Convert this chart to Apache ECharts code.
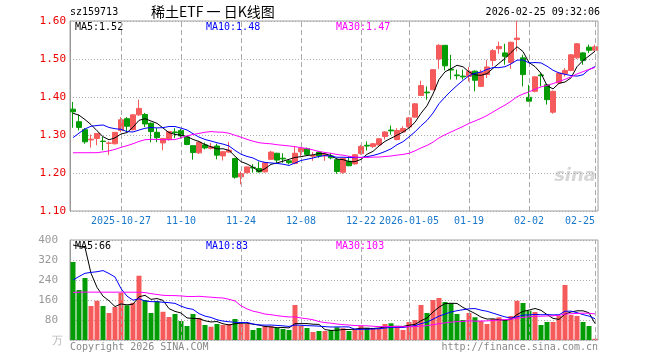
<!DOCTYPE html>
<html><head><meta charset="utf-8">
<script src="https://cdn.jsdelivr.net/npm/echarts@6/dist/echarts.min.js"></script>
<style>html,body{margin:0;padding:0;background:#fff}#c{width:660px;height:360px}</style>
</head><body><div id="c"></div>
<script>
// ---------- data ----------
const dates = [
'2025-10-15','2025-10-16','2025-10-17','2025-10-20','2025-10-21','2025-10-22','2025-10-23','2025-10-24','2025-10-27','2025-10-28',
'2025-10-29','2025-10-30','2025-10-31','2025-11-03','2025-11-04','2025-11-05','2025-11-06','2025-11-07','2025-11-10','2025-11-11',
'2025-11-12','2025-11-13','2025-11-14','2025-11-17','2025-11-18','2025-11-19','2025-11-20','2025-11-21','2025-11-24','2025-11-25',
'2025-11-26','2025-11-27','2025-11-28','2025-12-01','2025-12-02','2025-12-03','2025-12-04','2025-12-05','2025-12-08','2025-12-09',
'2025-12-10','2025-12-11','2025-12-12','2025-12-15','2025-12-16','2025-12-17','2025-12-18','2025-12-19','2025-12-22','2025-12-23',
'2025-12-24','2025-12-25','2025-12-26','2025-12-29','2025-12-30','2025-12-31','2026-01-05','2026-01-06','2026-01-07','2026-01-08',
'2026-01-09','2026-01-12','2026-01-13','2026-01-14','2026-01-15','2026-01-16','2026-01-19','2026-01-20','2026-01-21','2026-01-22',
'2026-01-23','2026-01-26','2026-01-27','2026-01-28','2026-01-29','2026-01-30','2026-02-02','2026-02-03','2026-02-04','2026-02-05',
'2026-02-06','2026-02-09','2026-02-10','2026-02-11','2026-02-12','2026-02-13','2026-02-24','2026-02-25'];
const opens = [
1.368,1.335,1.314,1.287,1.291,1.284,1.278,1.277,1.312,1.343,
1.314,1.353,1.354,1.331,1.307,1.279,1.288,1.308,1.312,1.295,
1.272,1.253,1.274,1.265,1.271,1.245,1.255,1.238,1.190,1.201,
1.215,1.212,1.203,1.236,1.252,1.239,1.232,1.225,1.256,1.264,
1.244,1.255,1.245,1.245,1.235,1.202,1.231,1.224,1.251,1.273,
1.270,1.274,1.296,1.313,1.288,1.308,1.321,1.347,1.404,1.413,
1.419,1.500,1.536,1.473,1.458,1.455,1.454,1.468,1.428,1.459,
1.496,1.527,1.516,1.491,1.551,1.503,1.399,1.415,1.458,1.432,
1.360,1.437,1.461,1.470,1.503,1.516,1.531,1.523];
const closes = [
1.361,1.320,1.282,1.289,1.304,1.283,1.279,1.307,1.340,1.323,
1.353,1.370,1.329,1.309,1.293,1.291,1.309,1.306,1.298,1.275,
1.254,1.281,1.266,1.269,1.247,1.256,1.260,1.189,1.198,1.216,
1.213,1.203,1.227,1.255,1.234,1.237,1.227,1.252,1.265,1.249,
1.246,1.245,1.249,1.240,1.204,1.238,1.219,1.248,1.270,1.271,
1.277,1.290,1.308,1.311,1.312,1.317,1.345,1.382,1.430,1.411,
1.472,1.536,1.482,1.471,1.456,1.453,1.467,1.444,1.465,1.479,
1.522,1.533,1.507,1.544,1.555,1.459,1.389,1.453,1.456,1.393,
1.415,1.463,1.470,1.511,1.540,1.496,1.523,1.532];
const highs = [
1.387,1.353,1.318,1.301,1.305,1.295,1.283,1.307,1.347,1.347,
1.355,1.393,1.358,1.333,1.318,1.291,1.311,1.318,1.316,1.297,
1.272,1.285,1.280,1.279,1.277,1.258,1.282,1.240,1.204,1.217,
1.223,1.230,1.229,1.258,1.253,1.252,1.236,1.271,1.269,1.267,
1.255,1.258,1.255,1.253,1.239,1.240,1.244,1.250,1.274,1.283,
1.279,1.292,1.310,1.325,1.318,1.323,1.347,1.384,1.443,1.428,
1.472,1.539,1.536,1.511,1.472,1.472,1.479,1.470,1.472,1.498,
1.526,1.546,1.540,1.546,1.600,1.511,1.432,1.454,1.463,1.435,
1.417,1.465,1.476,1.513,1.542,1.518,1.538,1.538];
const lows = [
1.319,1.312,1.277,1.267,1.273,1.260,1.247,1.275,1.307,1.308,
1.312,1.350,1.321,1.281,1.281,1.260,1.285,1.292,1.291,1.273,
1.235,1.250,1.262,1.262,1.236,1.233,1.253,1.185,1.170,1.199,
1.201,1.201,1.201,1.234,1.227,1.227,1.223,1.223,1.245,1.246,
1.232,1.240,1.232,1.236,1.198,1.198,1.218,1.222,1.248,1.259,
1.266,1.273,1.288,1.301,1.286,1.308,1.318,1.346,1.403,1.393,
1.418,1.474,1.470,1.446,1.446,1.446,1.441,1.415,1.426,1.450,
1.481,1.514,1.485,1.474,1.520,1.428,1.389,1.412,1.428,1.380,
1.356,1.435,1.454,1.468,1.500,1.485,1.516,1.520];
const volumes = [
312,200,248,136,157,136,108,132,188,139,
149,257,160,108,155,113,92,104,76,56,
104,88,60,53,64,60,64,84,64,64,
40,48,55,55,48,44,40,140,56,48,
32,36,36,40,51,47,36,44,57,49,
44,47,64,67,53,40,72,80,140,108,
160,168,152,147,104,80,108,91,76,64,
84,91,80,96,157,148,117,112,60,72,
72,96,220,100,96,72,56,5];
// closes / volumes of the 29 sessions before the window (for moving averages)
const preCloses = [1.32,1.28,1.29,1.30,1.22,1.20,1.19,1.18,1.19,1.20,1.19,1.19,1.28,1.30,1.31,1.31,1.30,1.15,1.13,1.14,1.200,1.172,1.219,1.284,1.269,1.345,1.340,1.355,1.385];
const preVolumes = [170,230,140,160,140,110,130,190,140,150,260,200,240,250,217,120,110,115,120,110,60,120,100,130,90,225,273,651,439];
const tickDates = ['2025-10-27','2025-11-10','2025-11-24','2025-12-08','2025-12-22','2026-01-05','2026-01-19','2026-02-02','2026-02-25'];
const tickLabels = ['2025-10-27','11-10','11-24','12-08','12-22','2026-01-05','01-19','02-02','02-25'];
const priceMALabels = ['MA5:1.52','MA10:1.48','MA30:1.47'];
const volMALabels = ['MA5:66','MA10:83','MA30:103'];

// ---------- helpers ----------
function movingAvg(pre, arr, n) {
  const all = pre.concat(arr);
  return arr.map((_, i) => {
    const j = i + pre.length;
    let s = 0;
    for (let k = 0; k < n; k++) s += all[j - k];
    return +(s / n).toFixed(4);
  });
}
const UP = '#f65b5b', DOWN = '#049c04';
const MONO = "'DejaVu Sans Mono', monospace";
const kData = dates.map((d, i) => [opens[i], closes[i], lows[i], highs[i]]);
const isUp = dates.map((d, i) => closes[i] >= opens[i]);
const vlines = {
  symbol: 'none', silent: true, animation: false,
  label: { show: false },
  lineStyle: { color: '#aaa', type: [5, 3], width: 1 },
  data: tickDates.map(d => ({ xAxis: d }))
};
const lblMap = {};
tickDates.forEach((d, i) => lblMap[d] = tickLabels[i]);

const chart = echarts.init(document.getElementById('c'), null, { renderer: 'canvas' });
const txt = (text, x, y, color, font, align) => ({
  type: 'text', x, y, silent: true,
  style: { text, fill: color, font: font || ('10px ' + MONO), align: align || 'left', verticalAlign: 'middle', textAlign: align || 'left', textVerticalAlign: 'middle' }
});

chart.setOption({
  animation: false,
  backgroundColor: '#fff',
  grid: [
    { left: 70, top: 21, width: 528, height: 190, show: true, borderColor: '#a0a0a0', borderWidth: 1 },
    { left: 70, top: 240, width: 528, height: 100, show: true, borderColor: '#a0a0a0', borderWidth: 1 }
  ],
  xAxis: [
    {
      type: 'category', gridIndex: 0, data: dates, boundaryGap: true,
      axisLine: { show: false },
      axisTick: { show: true, inside: true, length: 3, alignWithLabel: true, lineStyle: { color: '#999' },
        interval: (idx, v) => lblMap[v] !== undefined },
      axisLabel: { show: true, color: '#1a78cc', fontFamily: MONO, fontSize: 10, margin: 5,
        interval: (idx, v) => lblMap[v] !== undefined,
        formatter: v => lblMap[v] || '', alignMaxLabel: 'right' },
      splitLine: { show: false }
    },
    {
      type: 'category', gridIndex: 1, data: dates, boundaryGap: true,
      axisLine: { show: false }, axisTick: { show: false }, axisLabel: { show: false }, splitLine: { show: false }
    }
  ],
  yAxis: [
    {
      type: 'value', gridIndex: 0, min: 1.1, max: 1.6, interval: 0.1, scale: true,
      axisLine: { show: true, lineStyle: { color: '#999' } }, axisTick: { show: false },
      axisLabel: { color: '#ee0000', fontFamily: MONO, fontSize: 11, margin: 4, formatter: v => v.toFixed(2) },
      splitLine: { show: true, lineStyle: { color: '#aaa', type: [1, 2], width: 1 } }
    },
    {
      type: 'value', gridIndex: 1, min: 0, max: 400, interval: 80,
      axisLine: { show: true, lineStyle: { color: '#999' } }, axisTick: { show: false },
      axisLabel: { color: '#999', fontFamily: MONO, fontSize: 11, margin: 12, formatter: v => v === 0 ? '' : String(v) },
      splitLine: { show: true, lineStyle: { color: '#aaa', type: [1, 2], width: 1 } }
    }
  ],
  series: [
    {
      type: 'candlestick', xAxisIndex: 0, yAxisIndex: 0, data: kData, barWidth: 5,
      itemStyle: { color: UP, color0: DOWN, borderColor: UP, borderColor0: DOWN, borderWidth: 1 },
      markLine: vlines
    },
    { type: 'line', xAxisIndex: 0, yAxisIndex: 0, data: movingAvg(preCloses, closes, 5), showSymbol: false, lineStyle: { color: '#000', width: 1 }, z: 5 },
    { type: 'line', xAxisIndex: 0, yAxisIndex: 0, data: movingAvg(preCloses, closes, 10), showSymbol: false, lineStyle: { color: '#0000ff', width: 1 }, z: 5 },
    { type: 'line', xAxisIndex: 0, yAxisIndex: 0, data: movingAvg(preCloses, closes, 30), showSymbol: false, lineStyle: { color: '#ff00ff', width: 1 }, z: 5 },
    {
      type: 'bar', xAxisIndex: 1, yAxisIndex: 1, barWidth: 5,
      data: volumes.map((v, i) => ({ value: v, itemStyle: { color: isUp[i] ? UP : DOWN } })),
      markLine: vlines
    },
    { type: 'line', xAxisIndex: 1, yAxisIndex: 1, data: movingAvg(preVolumes, volumes, 5), showSymbol: false, lineStyle: { color: '#000', width: 1 }, z: 5 },
    { type: 'line', xAxisIndex: 1, yAxisIndex: 1, data: movingAvg(preVolumes, volumes, 10), showSymbol: false, lineStyle: { color: '#0000ff', width: 1 }, z: 5 },
    { type: 'line', xAxisIndex: 1, yAxisIndex: 1, data: movingAvg(preVolumes, volumes, 30), showSymbol: false, lineStyle: { color: '#ff00ff', width: 1 }, z: 5 }
  ],
  graphic: [
    txt('sz159713', 70, 12, '#000'),
    txt('稀土ETF 一 日K线图', 151, 12, '#000', "14px 'Noto Sans CJK SC'"),
    txt('2026-02-25 09:32:06', 600, 12, '#000', '10px ' + MONO, 'right'),
    txt(priceMALabels[0], 75, 27, '#000'),
    txt(priceMALabels[1], 206, 27, '#0000ff'),
    txt(priceMALabels[2], 336, 27, '#ff00ff'),
    txt(volMALabels[0], 75, 246, '#000'),
    txt(volMALabels[1], 206, 246, '#0000ff'),
    txt(volMALabels[2], 336, 246, '#ff00ff'),
    txt('万', 52, 341, '#bbb', '11px ' + MONO),
    txt('Copyright 2026 SINA.COM', 70, 347, '#888'),
    txt('http://finance.sina.com.cn', 598, 347, '#888', '10px ' + MONO, 'right'),
    txt('sina', 596, 176, 'rgba(200,200,200,0.75)', "italic bold 18px 'DejaVu Sans'", 'right')
  ]
});
</script></body></html>
